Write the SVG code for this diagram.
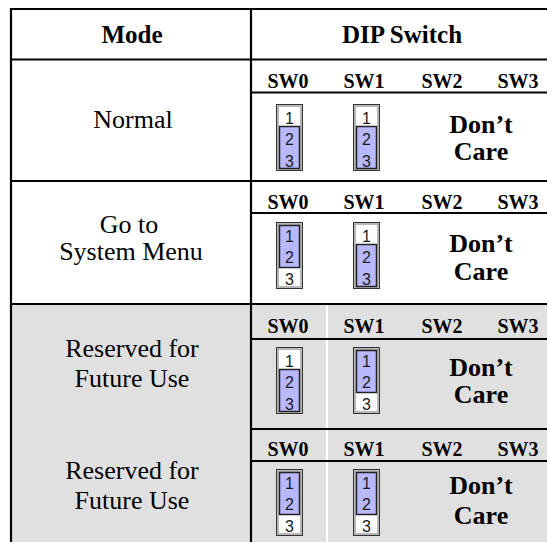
<svg xmlns="http://www.w3.org/2000/svg" width="547" height="542" viewBox="0 0 547 542">
<style>
.hd{font-family:"Liberation Serif",Times,serif;font-weight:bold;font-size:25px;text-anchor:middle;fill:#000}
.md{font-family:"Liberation Serif",Times,serif;font-size:26px;text-anchor:middle;fill:#000}
.sw{font-family:"Liberation Serif",Times,serif;font-weight:bold;font-size:20px;text-anchor:middle;fill:#000}
.dc{font-family:"Liberation Serif",Times,serif;font-weight:bold;font-size:26px;text-anchor:middle;fill:#000}
.dg{font-family:"Liberation Sans",Arial,sans-serif;font-size:16px;text-anchor:middle;fill:#1a1a1a}
.ln{stroke:#000;stroke-width:2.2;fill:none}
</style>
<defs>
<g id="sw23">
<rect x="0.5" y="0.5" width="26" height="66" fill="#fff" stroke="#333" stroke-width="1"/>
<rect x="2" y="2" width="23" height="63" fill="none" stroke="#a0a0a0" stroke-width="1.5"/>
<rect x="3.5" y="22.5" width="20" height="42" fill="#b8b8ff" stroke="#222" stroke-width="1.5"/>
<text class="dg" x="13.5" y="19.5">1</text>
<text class="dg" x="13.5" y="41">2</text>
<text class="dg" x="13.5" y="62.5">3</text>
</g>
<g id="sw12">
<rect x="0.5" y="0.5" width="26" height="66" fill="#fff" stroke="#333" stroke-width="1"/>
<rect x="2" y="2" width="23" height="63" fill="none" stroke="#a0a0a0" stroke-width="1.5"/>
<rect x="3.5" y="3.5" width="20" height="42" fill="#b8b8ff" stroke="#222" stroke-width="1.5"/>
<text class="dg" x="13.5" y="19.5">1</text>
<text class="dg" x="13.5" y="41">2</text>
<text class="dg" x="13.5" y="62.5">3</text>
</g>
</defs>
<rect x="0" y="0" width="547" height="542" fill="#fff"/>
<rect x="11" y="304" width="536" height="238" fill="#e0e0e0"/>
<line x1="327" y1="304" x2="327" y2="542" stroke="#fff" stroke-width="2"/>

<g id="grid">
<line class="ln" x1="11" y1="9" x2="547" y2="9"/>
<line class="ln" x1="11" y1="8" x2="11" y2="542"/>
<line class="ln" x1="251" y1="9" x2="251" y2="542"/>
<line class="ln" x1="11" y1="59.5" x2="547" y2="59.5"/>
<line class="ln" x1="251" y1="92.5" x2="547" y2="92.5"/>
<line class="ln" x1="11" y1="181" x2="547" y2="181"/>
<line class="ln" x1="251" y1="213" x2="547" y2="213"/>
<line class="ln" x1="11" y1="304" x2="547" y2="304"/>
<line class="ln" x1="251" y1="339" x2="547" y2="339"/>
<line class="ln" x1="251" y1="429" x2="547" y2="429"/>
<line class="ln" x1="251" y1="461" x2="547" y2="461"/>
</g>

<g id="header">
<text class="hd" x="132" y="43">Mode</text>
<text class="hd" x="402" y="43">DIP Switch</text>
</g>

<g id="row-normal">
<text class="md" x="133" y="128">Normal</text>
<text class="sw" x="288" y="88">SW0</text>
<text class="sw" x="364" y="88">SW1</text>
<text class="sw" x="442" y="88">SW2</text>
<text class="sw" x="518" y="88">SW3</text>
<use href="#sw23" x="276" y="104"/>
<use href="#sw23" x="353" y="104"/>
<text class="dc" x="481" y="133">Don’t</text>
<text class="dc" x="481" y="160">Care</text>
</g>

<g id="row-goto">
<text class="md" x="129" y="233">Go to</text>
<text class="md" x="131" y="260">System Menu</text>
<text class="sw" x="288" y="209">SW0</text>
<text class="sw" x="364" y="209">SW1</text>
<text class="sw" x="442" y="209">SW2</text>
<text class="sw" x="518" y="209">SW3</text>
<use href="#sw12" x="276" y="222"/>
<use href="#sw23" x="353" y="222"/>
<text class="dc" x="481" y="252">Don’t</text>
<text class="dc" x="481" y="280">Care</text>
</g>

<g id="row-reserved1">
<text class="md" x="132" y="357">Reserved for</text>
<text class="md" x="132" y="387">Future Use</text>
<text class="sw" x="288" y="333">SW0</text>
<text class="sw" x="364" y="333">SW1</text>
<text class="sw" x="442" y="333">SW2</text>
<text class="sw" x="518" y="333">SW3</text>
<use href="#sw23" x="276" y="347"/>
<use href="#sw12" x="353" y="347"/>
<text class="dc" x="481" y="376">Don’t</text>
<text class="dc" x="481" y="403">Care</text>
</g>

<g id="row-reserved2">
<text class="md" x="132" y="479">Reserved for</text>
<text class="md" x="132" y="509">Future Use</text>
<text class="sw" x="288" y="456">SW0</text>
<text class="sw" x="364" y="456">SW1</text>
<text class="sw" x="442" y="456">SW2</text>
<text class="sw" x="518" y="456">SW3</text>
<use href="#sw12" x="276" y="469"/>
<use href="#sw12" x="353" y="469"/>
<text class="dc" x="481" y="494">Don’t</text>
<text class="dc" x="481" y="524">Care</text>
</g>
</svg>
